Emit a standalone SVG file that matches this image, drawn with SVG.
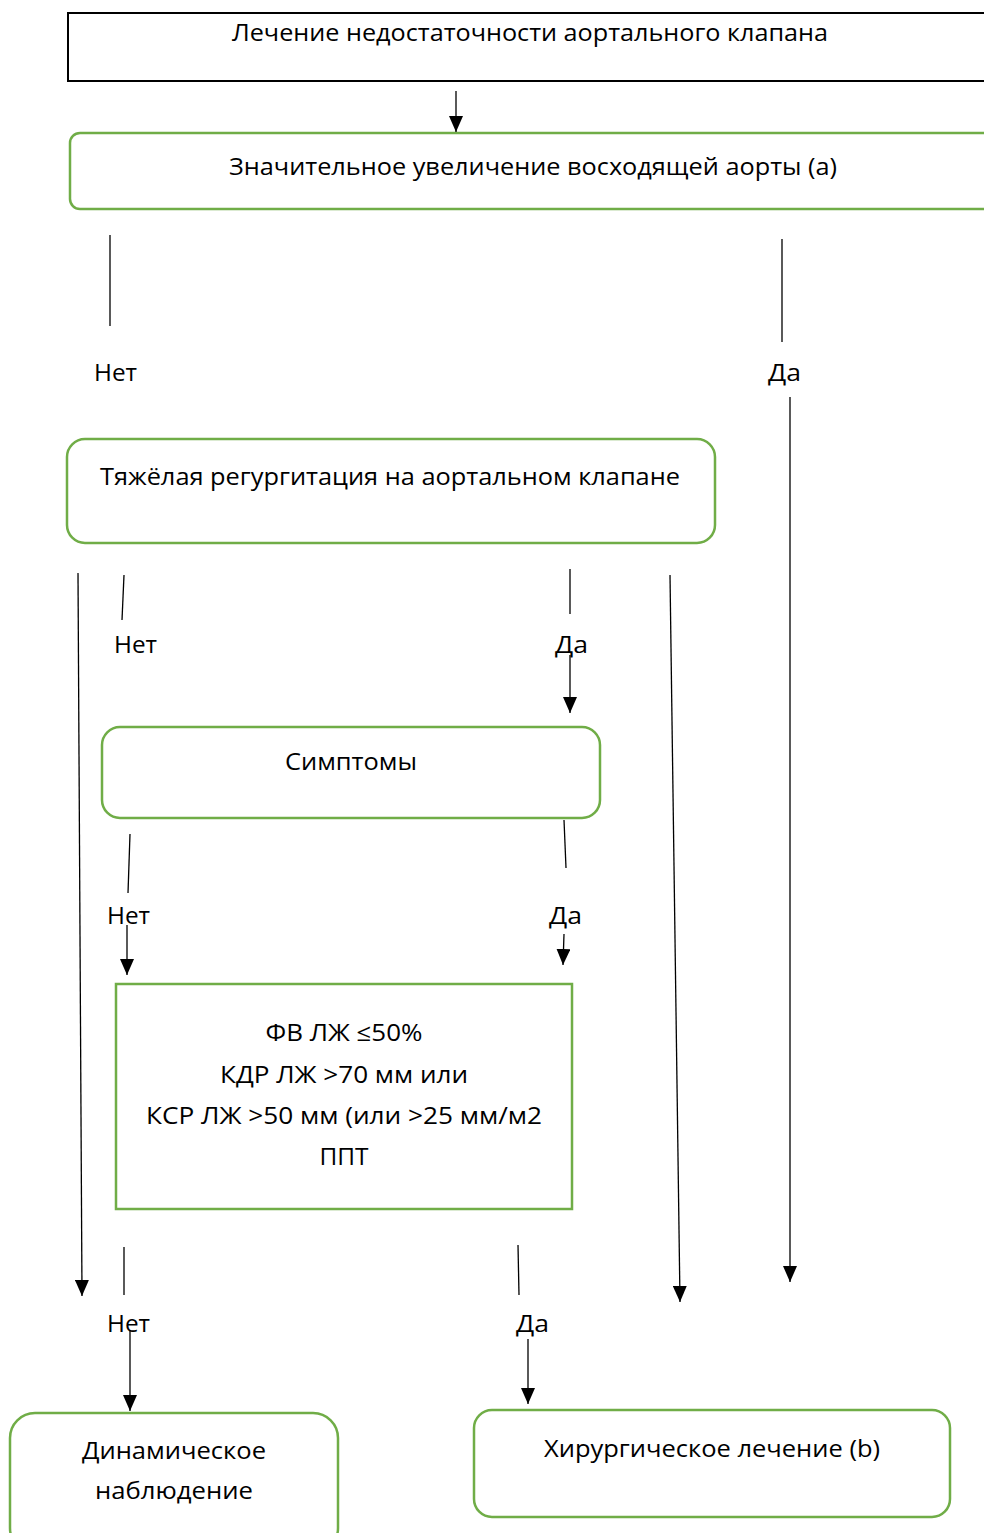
<svg xmlns="http://www.w3.org/2000/svg" width="984" height="1533" viewBox="0 0 984 1533">
<style>
text{font-family:"Open Sans","Noto Sans","Liberation Sans",sans-serif;font-size:24px;fill:#000;text-anchor:middle}
.g{fill:#fff;stroke:#70AD47;stroke-width:2.5}
.k{fill:#fff;stroke:#000;stroke-width:2}
.c line{stroke:#000;stroke-width:1.3}
.a{marker-end:url(#ah)}
.l{text-anchor:start}
</style>
<defs>
<marker id="ah" markerWidth="16" markerHeight="14" refX="16" refY="7" orient="auto" markerUnits="userSpaceOnUse" viewBox="0 0 16 14">
<path d="M0,0 L16,7 L0,14 z" fill="#000"/>
</marker>
</defs>
<rect width="984" height="1533" fill="#fff"/>
<g id="n1"><rect class="k" x="68" y="13" width="930" height="68"/><text x="530" y="41" textLength="596" lengthAdjust="spacingAndGlyphs">Лечение недостаточности аортального клапана</text></g>
<g id="n2"><rect class="g" x="70" y="133" width="930" height="76" rx="10"/><text x="533" y="175" textLength="608" lengthAdjust="spacingAndGlyphs">Значительное увеличение восходящей аорты (a)</text></g>
<g id="n3"><rect class="g" x="67" y="439" width="648" height="104" rx="18"/><text x="390" y="485" textLength="580" lengthAdjust="spacingAndGlyphs">Тяжёлая регургитация на аортальном клапане</text></g>
<g id="n4"><rect class="g" x="102" y="727" width="498" height="91" rx="18"/><text x="351" y="770" textLength="132" lengthAdjust="spacingAndGlyphs">Симптомы</text></g>
<g id="n5"><rect class="g" x="116" y="984" width="456" height="225"/>
<text x="344" y="1041" textLength="157" lengthAdjust="spacingAndGlyphs">ФВ ЛЖ ≤50%</text>
<text x="344" y="1083" textLength="248" lengthAdjust="spacingAndGlyphs">КДР ЛЖ &gt;70 мм или</text>
<text x="344" y="1124" textLength="396" lengthAdjust="spacingAndGlyphs">КСР ЛЖ &gt;50 мм (или &gt;25 мм/м2</text>
<text x="344" y="1165" textLength="49" lengthAdjust="spacingAndGlyphs">ППТ</text></g>
<g id="n6"><rect class="g" x="10" y="1413" width="328" height="140" rx="25"/><text x="174" y="1459" textLength="184" lengthAdjust="spacingAndGlyphs">Динамическое</text><text x="174" y="1499" textLength="158" lengthAdjust="spacingAndGlyphs">наблюдение</text></g>
<g id="n7"><rect class="g" x="474" y="1410" width="476" height="107" rx="18"/><text x="712" y="1457" textLength="336" lengthAdjust="spacingAndGlyphs">Хирургическое лечение (b)</text></g>
<g id="labels">
<text class="l" x="94" y="381" textLength="43" lengthAdjust="spacingAndGlyphs">Нет</text>
<text class="l" x="768" y="381" textLength="33" lengthAdjust="spacingAndGlyphs">Да</text>
<text class="l" x="114" y="653" textLength="43" lengthAdjust="spacingAndGlyphs">Нет</text>
<text class="l" x="555" y="653" textLength="33" lengthAdjust="spacingAndGlyphs">Да</text>
<text class="l" x="107" y="924" textLength="43" lengthAdjust="spacingAndGlyphs">Нет</text>
<text class="l" x="549" y="924" textLength="33" lengthAdjust="spacingAndGlyphs">Да</text>
<text class="l" x="107" y="1332" textLength="43" lengthAdjust="spacingAndGlyphs">Нет</text>
<text class="l" x="516" y="1332" textLength="33" lengthAdjust="spacingAndGlyphs">Да</text>
</g>
<g id="connectors" class="c">
<line class="a" x1="456" y1="91" x2="456" y2="132"/>
<line x1="110" y1="235" x2="110" y2="326"/>
<line x1="782" y1="239" x2="782" y2="342"/>
<line class="a" x1="790" y1="397" x2="790" y2="1282"/>
<line class="a" x1="78" y1="573" x2="82" y2="1296"/>
<line x1="124" y1="575" x2="122" y2="620"/>
<line x1="570" y1="569" x2="570" y2="614"/>
<line class="a" x1="570" y1="655" x2="570" y2="713"/>
<line class="a" x1="670" y1="575" x2="680" y2="1302"/>
<line x1="130" y1="834" x2="128" y2="893"/>
<line class="a" x1="127" y1="925" x2="127" y2="975"/>
<line x1="564" y1="820" x2="566" y2="868"/>
<line class="a" x1="564" y1="934" x2="563" y2="965"/>
<line x1="124" y1="1247" x2="124" y2="1295"/>
<line class="a" x1="130" y1="1330" x2="130" y2="1411"/>
<line x1="518" y1="1245" x2="519" y2="1295"/>
<line class="a" x1="528" y1="1339" x2="528" y2="1404"/>
</g>
</svg>
